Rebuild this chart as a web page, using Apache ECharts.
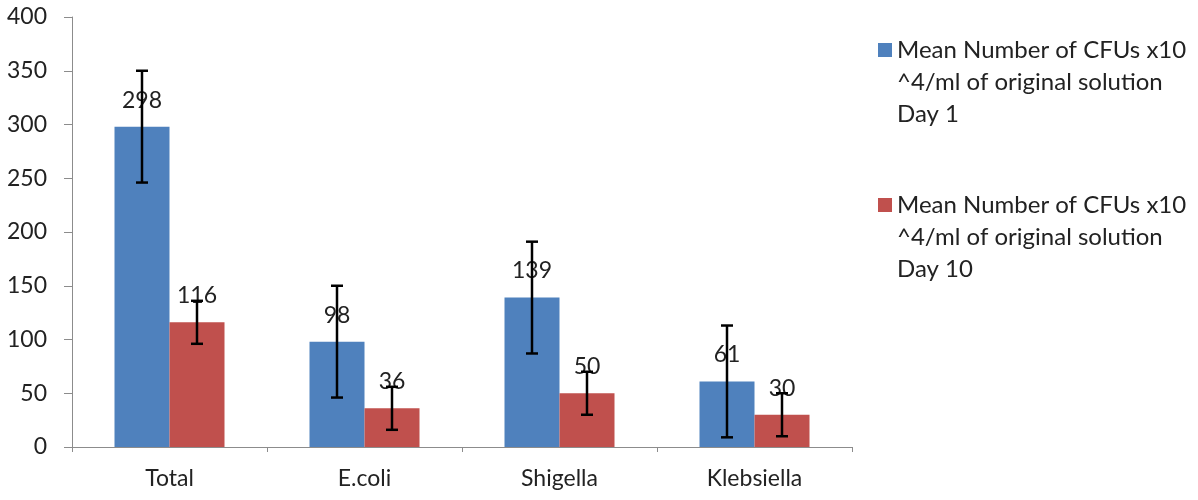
<!DOCTYPE html>
<html>
<head>
<meta charset="utf-8">
<script src="https://cdn.jsdelivr.net/npm/echarts@6/dist/echarts.min.js"></script>
<style>html,body{margin:0;padding:0;background:#fff;}#c{width:1198px;height:500px;}</style>
</head>
<body>
<div id="c"></div>
<script>
const categories = ['Total', 'E.coli', 'Shigella', 'Klebsiella'];
const day1Name = 'Mean Number of CFUs x10 ^4/ml of original solution Day 1';
const day10Name = 'Mean Number of CFUs x10 ^4/ml of original solution Day 10';
const day1Values = [298, 98, 139, 61];
const day10Values = [116, 36, 50, 30];
const day1Errors = [52, 52, 52, 52];
const day10Errors = [20, 20, 20, 20];
const yTicks = [0, 50, 100, 150, 200, 250, 300, 350, 400];

const FONT = 'Lato, "Open Sans", sans-serif';
const BAR_W = 55;
const legendLines = {};
legendLines[day1Name] = 'Mean Number of CFUs x10\n^4/ml of original solution\nDay 1';
legendLines[day10Name] = 'Mean Number of CFUs x10\n^4/ml of original solution\nDay 10';

function errorSeries(values, errors, offset) {
  return {
    type: 'custom',
    silent: true,
    z: 10,
    data: values.map((v, i) => [i, v - errors[i], v + errors[i]]),
    renderItem: function (params, api) {
      const lo = api.coord([api.value(0), api.value(1)]);
      const hi = api.coord([api.value(0), api.value(2)]);
      const x = lo[0] + offset;
      const cap = 6;
      const st = { stroke: '#000', lineWidth: 2.5 };
      return {
        type: 'group',
        children: [
          { type: 'line', shape: { x1: x, y1: lo[1], x2: x, y2: hi[1] }, style: st },
          { type: 'line', shape: { x1: x - cap, y1: lo[1], x2: x + cap, y2: lo[1] }, style: st },
          { type: 'line', shape: { x1: x - cap, y1: hi[1], x2: x + cap, y2: hi[1] }, style: st }
        ]
      };
    }
  };
}

function legendFor(name, top) {
  return {
    data: [name],
    orient: 'vertical',
    left: 878,
    top: top,
    padding: 0,
    itemWidth: 14,
    itemHeight: 14,
    icon: 'rect',
    selectedMode: false,
    // two leading blank lines so that the icon sits beside the first visible line
    formatter: n => ' \n \n' + legendLines[n],
    textStyle: { fontFamily: FONT, fontSize: 24, lineHeight: 32, color: '#222' }
  };
}

const chart = echarts.init(document.getElementById('c'));
chart.setOption({
  animation: false,
  backgroundColor: '#fff',
  grid: { left: 72, right: 346, top: 17, bottom: 53 },
  legend: [legendFor(day1Name, -30), legendFor(day10Name, 125)],
  xAxis: {
    type: 'category',
    data: categories,
    axisLine: { lineStyle: { color: '#8c8c8c', width: 1 } },
    axisTick: { show: true, length: 5, lineStyle: { color: '#8c8c8c' } },
    axisLabel: { fontFamily: FONT, fontSize: 23, color: '#222', margin: 20 }
  },
  yAxis: {
    type: 'value',
    min: yTicks[0],
    max: yTicks[yTicks.length - 1],
    interval: yTicks[1] - yTicks[0],
    axisLine: { show: true, lineStyle: { color: '#8c8c8c', width: 1 } },
    axisTick: { show: true, length: 8, lineStyle: { color: '#8c8c8c' } },
    splitLine: { show: false },
    axisLabel: { fontFamily: FONT, fontSize: 23, color: '#222', margin: 25 }
  },
  series: [
    {
      name: day1Name, type: 'bar', data: day1Values, barWidth: BAR_W, barGap: '0%',
      itemStyle: { color: '#4F81BD' }, silent: true,
      label: { show: true, position: 'top', distance: 15, fontFamily: FONT, fontSize: 23, color: '#222' }
    },
    {
      name: day10Name, type: 'bar', data: day10Values, barWidth: BAR_W, barGap: '0%',
      itemStyle: { color: '#C0504D' }, silent: true,
      label: { show: true, position: 'top', distance: 15, fontFamily: FONT, fontSize: 23, color: '#222' }
    },
    errorSeries(day1Values, day1Errors, -BAR_W / 2),
    errorSeries(day10Values, day10Errors, BAR_W / 2)
  ]
});
</script>
</body>
</html>
